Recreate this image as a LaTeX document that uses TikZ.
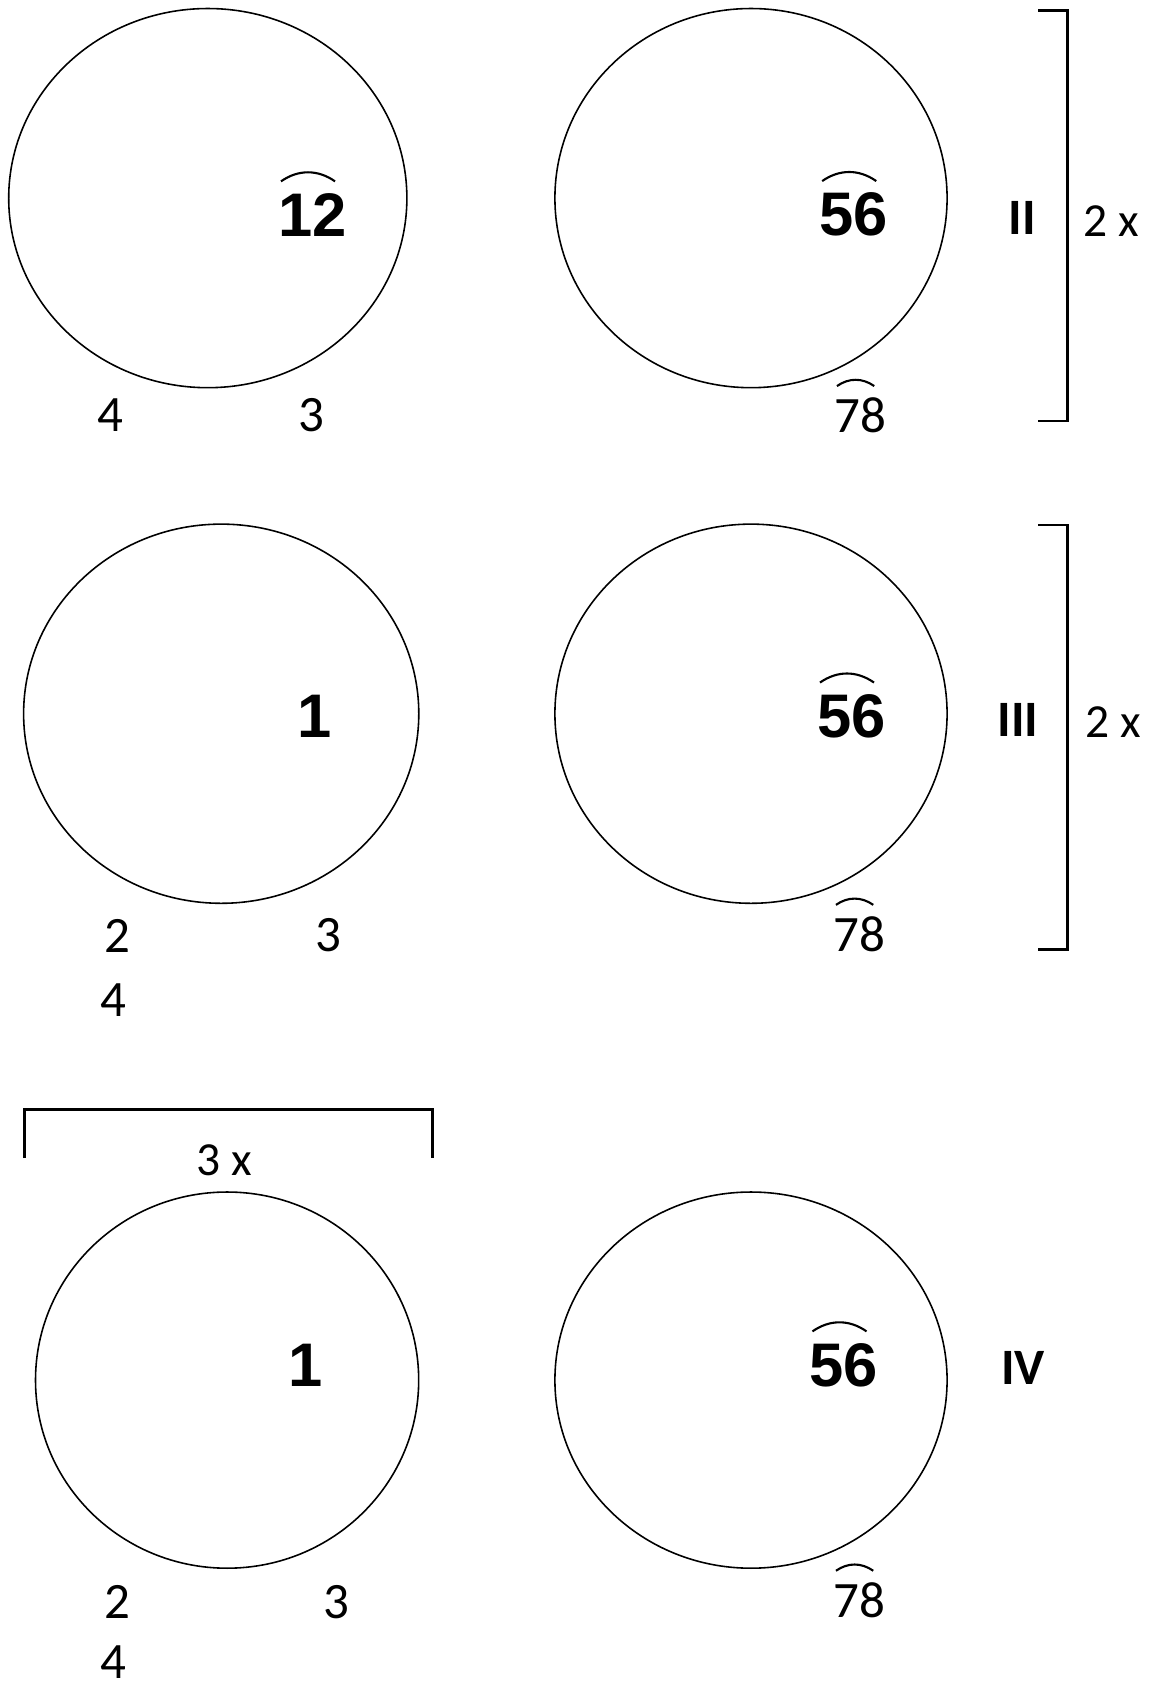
\documentclass[tikz,border=0pt]{standalone}
\usepackage{fontspec}
\setmainfont{Carlito}
\newfontfamily\numfont{Liberation Sans}
\usetikzlibrary{shapes.geometric}
\tikzset{
  vong/.style={draw, ellipse, line width=0.45pt, inner sep=0pt},
  so/.style={font=\fontsize{14.5}{14.5}\selectfont, inner sep=0pt},
  sodam/.style={font=\numfont\bfseries\fontsize{17.5}{17.5}\selectfont, inner sep=0pt},
  la/.style={font=\bfseries\fontsize{14.5}{14.5}\selectfont, inner sep=0pt},
  lap/.style={font=\fontsize{13.5}{13.5}\selectfont, inner sep=0pt},
  cung/.style={line width=0.6pt},
  ngoac/.style={line width=0.7pt},
}
\newcommand{\cungtren}[1]{\draw[cung] ([xshift=1pt,yshift=3.2pt]#1.north west) to[bend left=35] ([xshift=-3.5pt,yshift=3.2pt]#1.north east);}

\begin{document}
\begin{tikzpicture}[x=0.01cm, y=-0.01cm]
    \useasboundingbox (0,0) rectangle (1151,1684);
    % Hàng II
    \node[vong, minimum width=398pt*0.2845, minimum height=379pt*0.2845] (e1) at (207.8,198.1) {};
    \node[vong, minimum width=392pt*0.2845, minimum height=379pt*0.2845] (e2) at (751.0,198.1) {};
    \node[sodam] (n12) at (312.4,214.8) {12};
    \node[sodam] (n56a) at (853.6,214.8) {56};
    \node[so] (n78a) at (860.0,415.6) {78};
    \node[so] (n4a) at (110.6,415.6) {4};
    \node[so] (n3a) at (311.4,415.6) {3};
    \node[la] (II) at (1022.1,218.0) {II};
    \node[lap] (x2a) at (1111.3,221.2) {2 x};
    \cungtren{n12}
    \cungtren{n56a}
    \cungtren{n78a}
    \draw[ngoac] (1038.3,10.7) -- (1067.3,10.7) -- (1067.3,421.0) -- (1038.3,421.0);
    % Hàng III
    \node[vong, minimum width=395pt*0.2845, minimum height=379pt*0.2845] (e3) at (221.2,713.7) {};
    \node[vong, minimum width=392pt*0.2845, minimum height=379pt*0.2845] (e4) at (751.0,713.7) {};
    \node[sodam] (n1b) at (314.6,716.3) {1};
    \node[sodam] (n56b) at (851.4,716.3) {56};
    \node[so] (n78b) at (859.0,934.4) {78};
    \node[so] (n2b) at (117.0,935.5) {2};
    \node[so] (n3b) at (328.6,935.5) {3};
    \node[so] (n4b) at (113.8,999.9) {4};
    \node[la] (III) at (1017.9,719.6) {III};
    \node[lap] (x2b) at (1113.4,721.7) {2 x};
    \cungtren{n56b}
    \cungtren{n78b}
    \draw[ngoac] (1038.3,525.2) -- (1067.3,525.2) -- (1067.3,949.4) -- (1038.3,949.4);
    % Hàng IV
    \draw[ngoac] (24.7,1158) -- (24.7,1109.4) -- (432.7,1109.4) -- (432.7,1158);
    \node[lap] (x3) at (224.4,1159.9) {3 x};
    \node[vong, minimum width=383pt*0.2845, minimum height=376pt*0.2845] (e5) at (227.1,1380.1) {};
    \node[vong, minimum width=392pt*0.2845, minimum height=376pt*0.2845] (e6) at (751.0,1380.1) {};
    \node[sodam] (n1c) at (306.0,1365.1) {1};
    \node[sodam] (n56c) at (843.9,1365.1) {56};
    \node[la] (IV) at (1023.2,1368.3) {IV};
    \node[so] (n78c) at (859.0,1600.3) {78};
    \node[so] (n2c) at (117.0,1602.4) {2};
    \node[so] (n3c) at (336.1,1602.4) {3};
    \node[so] (n4c) at (113.8,1662.5) {4};
    \cungtren{n56c}
    \cungtren{n78c}
\end{tikzpicture}
\end{document}
